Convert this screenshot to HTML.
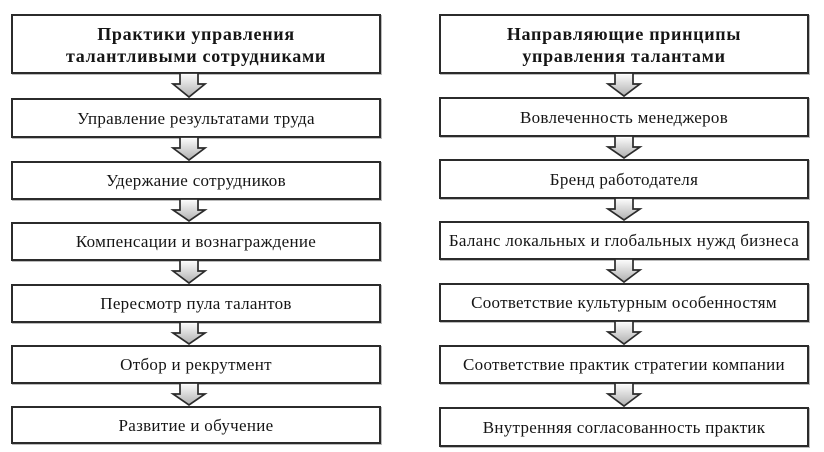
<!DOCTYPE html>
<html><head><meta charset="utf-8"><style>
html,body{margin:0;padding:0;background:#fff;}
body{width:824px;height:452px;position:relative;overflow:hidden;font-family:"Liberation Serif","Noto Serif CJK SC",serif;color:#151515;}
.b{position:absolute;box-sizing:border-box;border:2px solid #2b2b2b;background:#fff;display:flex;align-items:center;justify-content:center;text-align:center;font-size:17px;letter-spacing:0.3px;box-shadow:1px 1px 0 #bbb;padding-top:1px;}
.t{font-weight:bold;font-size:18px;letter-spacing:0.7px;line-height:22px;padding-top:2px;}
svg{position:absolute;left:0;top:0;}
</style></head><body>
<div class="b t" style="left:11px;top:14px;width:370px;height:60px;">Практики управления<br>талантливыми сотрудниками</div>
<div class="b" style="left:11px;top:98px;width:370px;height:40px;">Управление результатами труда</div>
<div class="b" style="left:11px;top:161px;width:370px;height:39px;">Удержание сотрудников</div>
<div class="b" style="left:11px;top:222px;width:370px;height:39px;">Компенсации и вознаграждение</div>
<div class="b" style="left:11px;top:284px;width:370px;height:39px;">Пересмотр пула талантов</div>
<div class="b" style="left:11px;top:345px;width:370px;height:39px;">Отбор и рекрутмент</div>
<div class="b" style="left:11px;top:406px;width:370px;height:38px;">Развитие и обучение</div>

<div class="b t" style="left:439px;top:14px;width:370px;height:60px;">Направляющие принципы<br>управления талантами</div>
<div class="b" style="left:439px;top:97px;width:370px;height:40px;">Вовлеченность менеджеров</div>
<div class="b" style="left:439px;top:159px;width:370px;height:40px;">Бренд работодателя</div>
<div class="b" style="left:439px;top:221px;width:370px;height:39px;">Баланс локальных и глобальных нужд бизнеса</div>
<div class="b" style="left:439px;top:283px;width:370px;height:39px;">Соответствие культурным особенностям</div>
<div class="b" style="left:439px;top:345px;width:370px;height:39px;">Соответствие практик стратегии компании</div>
<div class="b" style="left:439px;top:407px;width:370px;height:40px;">Внутренняя согласованность практик</div>

<svg width="824" height="452" viewBox="0 0 824 452">
<defs>
<linearGradient id="g" x1="0" y1="0" x2="0" y2="1">
<stop offset="0" stop-color="#ffffff"/>
<stop offset="1" stop-color="#b0b0b0"/>
</linearGradient>
</defs>
<g fill="url(#g)" stroke="#2b2b2b" stroke-width="1.7" stroke-linejoin="miter">
<polygon points="180,73 198,73 198,84 205,84 189,97 173,84 180,84"/>
<polygon points="180,137 198,137 198,148 205,148 189,160 173,148 180,148"/>
<polygon points="180,199 198,199 198,210 205,210 189,221 173,210 180,210"/>
<polygon points="180,260 198,260 198,271 205,271 189,283 173,271 180,271"/>
<polygon points="180,322 198,322 198,333 205,333 189,344 173,333 180,333"/>
<polygon points="180,383 198,383 198,394 205,394 189,405 173,394 180,394"/>
<polygon points="615,73 633,73 633,84 640,84 624,96 608,84 615,84"/>
<polygon points="615,136 633,136 633,147 640,147 624,158 608,147 615,147"/>
<polygon points="615,198 633,198 633,209 640,209 624,220 608,209 615,209"/>
<polygon points="615,259 633,259 633,270 640,270 624,282 608,270 615,270"/>
<polygon points="615,321 633,321 633,332 640,332 624,344 608,332 615,332"/>
<polygon points="615,383 633,383 633,394 640,394 624,406 608,394 615,394"/>
</g>
</svg>
</body></html>
